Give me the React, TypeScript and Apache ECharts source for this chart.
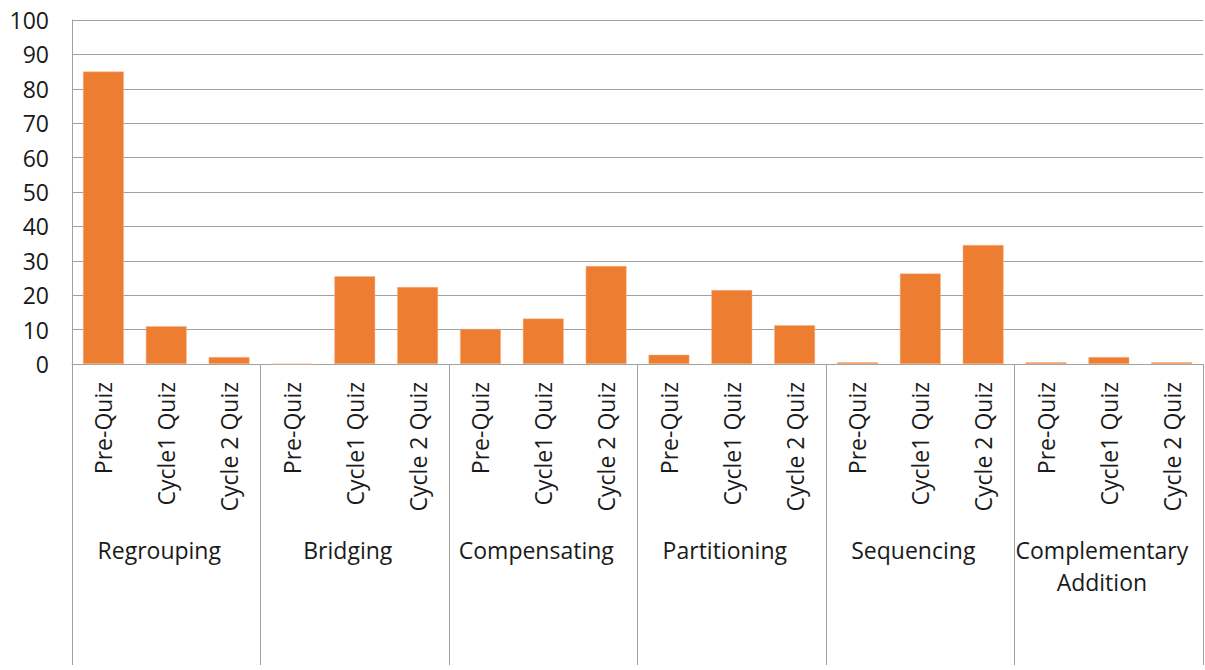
import React, { useEffect, useRef } from "react";
import * as echarts from "echarts";

const groups = ["Regrouping", "Bridging", "Compensating", "Partitioning", "Sequencing", "Complementary\nAddition"];
const quizzes = ["Pre-Quiz", "Cycle1 Quiz", "Cycle 2 Quiz"];
const regrouping = [85, 11, 2];
const bridging = [0, 25.5, 22.4];
const compensating = [10.2, 13.2, 28.5];
const partitioning = [2.7, 21.5, 11.3];
const sequencing = [0.5, 26.3, 34.6];
const complementary = [0.5, 2, 0.5];
const yTicks = [0, 10, 20, 30, 40, 50, 60, 70, 80, 90, 100];

const groupValues = [regrouping, bridging, compensating, partitioning, sequencing, complementary];

export default function App() {
  const ref = useRef<HTMLDivElement>(null);
  useEffect(() => {
    if (!ref.current) return;
    const chart = echarts.init(ref.current, undefined, { renderer: "svg" });
    const cats: string[] = [];
    const vals: number[] = [];
    groups.forEach((g, gi) => {
      quizzes.forEach((q, qi) => {
        cats.push(g + "|" + q);
        vals.push(groupValues[gi][qi]);
      });
    });
    const font = "'Open Sans', sans-serif";
    const gray = "#a0a0a0";
    chart.setOption({
      animation: false,
      grid: { left: 72, right: 0, top: 20, bottom: 306, containLabel: false },
      xAxis: [
        {
          type: "category",
          data: cats,
          position: "bottom",
          axisLine: { show: true, lineStyle: { color: gray, width: 1 } },
          axisTick: { show: false },
          axisLabel: {
            interval: 0,
            rotate: 90,
            margin: 18,
            fontFamily: font,
            fontSize: 23,
            color: "#1a1a1a",
            formatter: (v: string) => v.split("|")[1],
          },
        },
        {
          type: "category",
          data: groups,
          position: "bottom",
          gridIndex: 0,
          axisLine: { show: false },
          axisTick: { show: true, length: 301, interval: 0, lineStyle: { color: gray, width: 1 } },
          axisLabel: {
            interval: 0,
            margin: 170,
            fontFamily: font,
            fontSize: 23,
            lineHeight: 32,
            color: "#1a1a1a",
            align: "center",
            padding: [0, 14, 0, 0],
          },
        },
      ],
      yAxis: {
        type: "value",
        min: yTicks[0],
        max: yTicks[yTicks.length - 1],
        interval: 10,
        axisLine: { show: true, lineStyle: { color: gray, width: 1 } },
        axisTick: { show: false },
        splitLine: { show: true, lineStyle: { color: gray, width: 1 } },
        axisLabel: { margin: 23, fontFamily: font, fontSize: 23, color: "#1a1a1a" },
      },
      series: [
        {
          type: "bar",
          data: vals,
          xAxisIndex: 0,
          barCategoryGap: "35%",
          itemStyle: { color: "#ED7D31", borderColor: "#F6B88E", borderWidth: 0.5 },
        },
      ],
    });
    return () => chart.dispose();
  }, []);
  return (
    <div
      ref={ref}
      style={{ position: "fixed", left: 0, top: 0, width: 1205, height: 670, background: "#fff" }}
    />
  );
}
